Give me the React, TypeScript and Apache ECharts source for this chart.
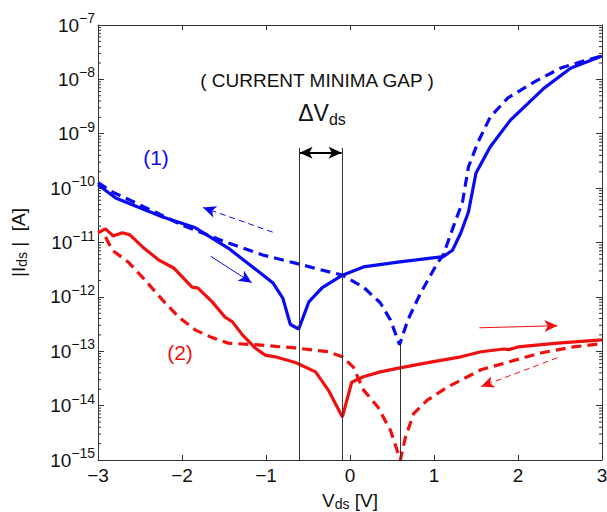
import React, { useEffect, useRef } from 'react';
import * as echarts from 'echarts';

// ---- data (V in volts, |Ids| in amperes) ----
const V_BLUE_SOLID = [-3.0, -2.79, -2.23, -1.84, -1.45, -1.16, -0.92, -0.80, -0.71, -0.61, -0.49, -0.33, -0.09, 0.16, 0.57, 1.11, 1.22, 1.32, 1.41, 1.50, 1.67, 1.91, 2.31, 2.63, 3.0];
const I_BLUE_SOLID = [1.15e-10, 6.6e-11, 2.95e-11, 1.86e-11, 7.9e-12, 3.55e-12, 1.82e-12, 9.5e-13, 3.1e-13, 2.57e-13, 8.1e-13, 1.48e-12, 2.51e-12, 3.55e-12, 4.37e-12, 5.5e-12, 7.2e-12, 1.51e-11, 3.63e-11, 1.9e-10, 5.75e-10, 1.78e-9, 6.9e-9, 1.62e-8, 2.7e-8];

const V_BLUE_DASH = [-3.0, -2.83, -2.32, -2.0, -1.45, -1.04, -0.65, -0.35, -0.09, 0.16, 0.36, 0.48, 0.59, 0.69, 0.84, 1.04, 1.11, 1.23, 1.34, 1.41, 1.52, 1.67, 1.88, 2.19, 2.51, 2.83, 3.0];
const I_BLUE_DASH = [1.26e-10, 8.5e-11, 3.63e-11, 2.09e-11, 9.8e-12, 5.9e-12, 4.17e-12, 3.16e-12, 2.51e-12, 1.51e-12, 7.8e-13, 3.8e-13, 1.32e-13, 3.8e-13, 1.17e-12, 4.17e-12, 5.9e-12, 1.95e-11, 5.6e-11, 2.45e-10, 6.8e-10, 2.04e-9, 4.57e-9, 8.9e-9, 1.62e-8, 2.29e-8, 2.7e-8];

const V_RED_SOLID = [-3.0, -2.91, -2.82, -2.71, -2.62, -2.47, -2.28, -2.10, -1.88, -1.81, -1.64, -1.49, -1.40, -1.28, -1.13, -1.01, -0.89, -0.65, -0.41, -0.26, -0.09, 0.02, 0.16, 0.36, 0.64, 0.96, 1.32, 1.56, 1.83, 1.89, 2.0, 2.47, 3.0];
const I_RED_SOLID = [1.51e-11, 1.78e-11, 1.32e-11, 1.51e-11, 1.38e-11, 8.3e-12, 4.8e-12, 3.4e-12, 1.51e-12, 1.45e-12, 8.1e-13, 4.27e-13, 3.47e-13, 2.0e-13, 1.15e-13, 8.5e-14, 7.9e-14, 6.2e-14, 4.17e-14, 1.95e-14, 6.2e-15, 2.69e-14, 3.4e-14, 4.17e-14, 5.1e-14, 6.3e-14, 7.9e-14, 9.8e-14, 1.1e-13, 1.07e-13, 1.2e-13, 1.41e-13, 1.62e-13];

const V_RED_DASH = [-2.91, -2.83, -2.64, -2.44, -2.23, -2.04, -1.84, -1.64, -1.45, -1.13, -0.65, -0.26, -0.09, 0.04, 0.16, 0.33, 0.48, 0.60, 0.66, 0.76, 0.92, 1.16, 1.40, 1.56, 1.88, 2.27, 2.66, 3.0];
const I_RED_DASH = [1.26e-11, 7.2e-12, 4.37e-12, 2.04e-12, 8.7e-13, 4.27e-13, 2.45e-13, 1.78e-13, 1.41e-13, 1.32e-13, 1.15e-13, 9.8e-14, 7.9e-14, 5.1e-14, 1.95e-14, 9.5e-15, 3.55e-15, 1.0e-15, 2.63e-15, 7.2e-15, 1.26e-14, 2.19e-14, 3.4e-14, 4.57e-14, 6.3e-14, 9.3e-14, 1.2e-13, 1.38e-13];

const X_TICKS = [-3, -2, -1, 0, 1, 2, 3];
const Y_MIN = 1e-15;
const Y_MAX = 1e-7;

const BLUE = '#0a0af0';
const RED = '#f01010';
const INK = '#111111';
const AXIS = '#333333';
const FONT = '"Liberation Sans", Arial, Helvetica, sans-serif';

const zip = (xs: number[], ys: number[]) => xs.map((x, i) => [x, ys[i]]);

// minor tick positions of the log axis (2..9 per decade)
const MINOR_TICKS: number[][] = [];
for (let d = -15; d < -7; d++) {
  for (let k = 2; k <= 9; k++) MINOR_TICKS.push([X_TICKS[0], k * Math.pow(10, d)]);
}

export default function App() {
  const ref = useRef<HTMLDivElement>(null);
  useEffect(() => {
    if (!ref.current) return;
    const chart = echarts.init(ref.current, null, { renderer: 'svg' });

    const yLabelFmt = (v: number) => {
      const e = Math.round(Math.log10(v));
      return `{b|10}{s|${e < 0 ? '\u2212' + Math.abs(e) : e}}`;
    };
    const yRich = {
      b: { fontSize: 19, fontFamily: FONT, color: INK, lineHeight: 28 },
      s: { fontSize: 14, fontFamily: FONT, color: INK, lineHeight: 14, verticalAlign: 'top' as const },
    };

    const arrowLine = (
      from: number[], to: number[], color: string, dashed: boolean, symbols: string[] = ['none', 'arrow'], width = 1
    ) => [
      {
        coord: from,
        symbol: symbols[0],
        lineStyle: { color, width, type: dashed ? [6, 4] : 'solid' },
        itemStyle: { color },
      },
      { coord: to, symbol: symbols[1], itemStyle: { color } },
    ];

    const axisLine = { show: true, onZero: false, lineStyle: { color: AXIS, width: 1 } };

    const option: any = {
      animation: false,
      grid: { left: 98, right: 5, top: 25, bottom: 52, containLabel: false, outerBoundsMode: 'none' },
      xAxis: [
        {
          type: 'value', min: -3, max: 3, interval: 1, position: 'bottom',
          axisLine,
          axisTick: { show: true, inside: true, length: 5, lineStyle: { color: AXIS } },
          splitLine: { show: false },
          axisLabel: {
            margin: 6, fontSize: 19, fontFamily: FONT, color: INK,
            formatter: (v: number) => (v < 0 ? '\u2212' + Math.abs(v) : String(v)),
          },
          name: '{a|V}{s|ds}{a| [V]}',
          nameLocation: 'middle',
          nameGap: 29,
          nameTextStyle: {
            rich: {
              a: { fontSize: 19, fontFamily: FONT, color: INK, lineHeight: 22 },
              s: { fontSize: 14, fontFamily: FONT, color: INK, lineHeight: 13, verticalAlign: 'bottom' },
            },
          },
        },
        {
          type: 'value', min: -3, max: 3, interval: 1, position: 'top',
          axisLine,
          axisTick: { show: true, inside: true, length: 5, lineStyle: { color: AXIS } },
          axisLabel: { show: false }, splitLine: { show: false },
        },
      ],
      yAxis: [
        {
          type: 'log', logBase: 10, min: Y_MIN, max: Y_MAX, splitNumber: 8, position: 'left',
          axisLine,
          axisTick: { show: true, inside: true, length: 6, lineStyle: { color: AXIS } },
          splitLine: { show: false },
          axisLabel: { margin: 3, formatter: yLabelFmt, rich: yRich },
          name: '{a||I}{s|ds}{a| |  [A]}',
          nameLocation: 'middle',
          nameRotate: 90,
          nameGap: 69,
          nameTextStyle: {
            rich: {
              a: { fontSize: 19, fontFamily: FONT, color: INK, lineHeight: 22 },
              s: { fontSize: 14, fontFamily: FONT, color: INK, lineHeight: 13, verticalAlign: 'bottom' },
            },
          },
        },
        {
          type: 'log', logBase: 10, min: Y_MIN, max: Y_MAX, splitNumber: 8, position: 'right',
          axisLine,
          axisTick: { show: true, inside: true, length: 6, lineStyle: { color: AXIS } },
          axisLabel: { show: false }, splitLine: { show: false },
        },
      ],
      series: [
        {
          type: 'custom',
          name: 'minor ticks',
          silent: true,
          coordinateSystem: 'cartesian2d',
          data: MINOR_TICKS,
          encode: { x: 0, y: 1 },
          renderItem: (params: any, api: any) => {
            const v = api.value(1);
            const pL = api.coord([-3, v]);
            const pR = api.coord([3, v]);
            return {
              type: 'group',
              children: [
                { type: 'line', shape: { x1: pL[0], y1: pL[1], x2: pL[0] + 3, y2: pL[1] }, style: { stroke: AXIS, lineWidth: 1 } },
                { type: 'line', shape: { x1: pR[0] - 3, y1: pR[1], x2: pR[0], y2: pR[1] }, style: { stroke: AXIS, lineWidth: 1 } },
              ],
            };
          },
          z: 1,
        },
        {
          type: 'line', name: '(1) forward', data: zip(V_BLUE_SOLID, I_BLUE_SOLID),
          symbol: 'none', lineStyle: { color: BLUE, width: 3.2 }, itemStyle: { color: BLUE }, z: 3,
          markLine: {
            silent: true, animation: false, label: { show: false }, symbolSize: [9, 13],
            data: [
              arrowLine([-1.66, 5.6e-12], [-1.17, 1.82e-12], BLUE, false),
              arrowLine([-0.92, 1.55e-11], [-1.75, 4.4e-11], BLUE, true),
            ],
          },
        },
        {
          type: 'line', name: '(1) reverse', data: zip(V_BLUE_DASH, I_BLUE_DASH),
          symbol: 'none', lineStyle: { color: BLUE, width: 3.2, type: [10, 6] }, itemStyle: { color: BLUE }, z: 3,
        },
        {
          type: 'line', name: '(2) forward', data: zip(V_RED_SOLID, I_RED_SOLID),
          symbol: 'none', lineStyle: { color: RED, width: 3.2 }, itemStyle: { color: RED }, z: 3,
          markLine: {
            silent: true, animation: false, label: { show: false }, symbolSize: [9, 13],
            data: [
              arrowLine([1.54, 2.7e-13], [2.47, 2.95e-13], RED, false),
              arrowLine([2.47, 7.6e-14], [1.56, 2.24e-14], RED, true),
            ],
          },
        },
        {
          type: 'line', name: '(2) reverse', data: zip(V_RED_DASH, I_RED_DASH),
          symbol: 'none', lineStyle: { color: RED, width: 3.2, type: [10, 6] }, itemStyle: { color: RED }, z: 3,
          markLine: {
            silent: true, animation: false, label: { show: false }, symbolSize: [9, 13],
            data: [
              arrowLine([-0.61, 5.5e-10], [-0.61, 1e-15], AXIS, false, ['none', 'none']),
              arrowLine([-0.09, 5.5e-10], [-0.09, 1e-15], AXIS, false, ['none', 'none']),
              arrowLine([0.60, 1.32e-13], [0.60, 1e-15], AXIS, false, ['none', 'none']),
              arrowLine([-0.6, 4.45e-10], [-0.1, 4.45e-10], '#000000', false, ['arrow', 'arrow'], 2),
            ],
          },
        },
      ],
      graphic: [
        {
          type: 'text', x: 317, y: 80,
          style: { text: '( CURRENT MINIMA GAP )', fontSize: 19, fontFamily: FONT, fill: INK, align: 'center', verticalAlign: 'middle' },
        },
        {
          type: 'text', x: 322, y: 113,
          style: {
            text: '{a|\u0394V}{s|ds}', align: 'center', verticalAlign: 'middle',
            rich: {
              a: { fontSize: 23, fontFamily: FONT, fill: INK, lineHeight: 28 },
              s: { fontSize: 16, fontFamily: FONT, fill: INK, lineHeight: 15, verticalAlign: 'bottom' },
            },
          },
        },
        {
          type: 'text', x: 156, y: 157,
          style: { text: '(1)', fontSize: 21, fontFamily: FONT, fill: BLUE, align: 'center', verticalAlign: 'middle' },
        },
        {
          type: 'text', x: 180, y: 352,
          style: { text: '(2)', fontSize: 21, fontFamily: FONT, fill: RED, align: 'center', verticalAlign: 'middle' },
        },
      ],
    };
    chart.setOption(option);
    return () => chart.dispose();
  }, []);
  return <div ref={ref} style={{ position: 'absolute', left: 0, top: 0, width: 607, height: 512, background: '#fff' }} />;
}
